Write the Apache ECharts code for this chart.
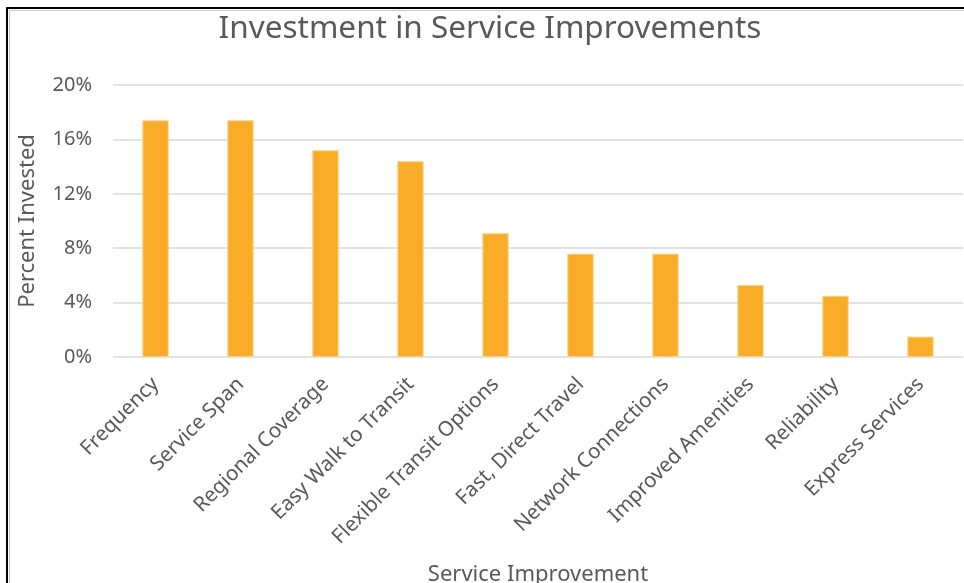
<!DOCTYPE html>
<html>
<head>
<meta charset="utf-8">
<script src="https://cdn.jsdelivr.net/npm/echarts@6/dist/echarts.min.js"></script>
<style>
html,body{margin:0;padding:0;background:#fff;}
#chart{width:964px;height:583px;}
</style>
</head>
<body>
<div id="chart"></div>
<script>
const categories = ["Frequency","Service Span","Regional Coverage","Easy Walk to Transit","Flexible Transit Options","Fast, Direct Travel","Network Connections","Improved Amenities","Reliability","Express Services"];
const percentInvested = [17.4, 17.4, 15.2, 14.4, 9.1, 7.6, 7.6, 5.3, 4.5, 1.5];
const yTicks = [0, 4, 8, 12, 16, 20];

const FONT = "Noto Sans";
const GRAY = "#595959";
const chart = echarts.init(document.getElementById('chart'), null, {renderer:'canvas'});
chart.setOption({
  animation: false,
  backgroundColor: '#fff',
  textStyle: {fontFamily: FONT},
  title: {
    text: 'Investment in Service Improvements',
    left: 485, top: 8, textAlign: 'center',
    textStyle: {fontFamily: FONT, fontSize: 31.5, fontWeight: 'normal', color: GRAY}
  },
  graphic: [
    {type:'rect', shape:{x:7, y:8, width:1000, height:1000}, style:{fill:'none', stroke:'#000', lineWidth:2}, silent:true},
    {type:'rect', shape:{x:9.5, y:10.5, width:1000, height:1000}, style:{fill:'none', stroke:'#c8c8c8', lineWidth:1}, silent:true}
  ],
  grid: {left: 113, right: 1, top: 85, bottom: 226, containLabel: false, outerBoundsMode: 'none'},
  xAxis: {
    type: 'category',
    data: categories,
    name: 'Service Improvement',
    nameLocation: 'middle',
    nameGap: 207,
    nameTextStyle: {fontFamily: FONT, fontSize: 22, color: GRAY},
    axisLine: {show: false},
    axisTick: {show: false},
    axisLabel: {rotate: 45, margin: 24, interval: 0, fontFamily: FONT, fontSize: 20.6, color: GRAY}
  },
  yAxis: {
    type: 'value',
    min: yTicks[0], max: yTicks[yTicks.length-1], interval: 4,
    name: 'Percent Invested',
    nameLocation: 'middle',
    nameGap: 74,
    nameTextStyle: {fontFamily: FONT, fontSize: 22, color: GRAY},
    axisLine: {show: false},
    axisTick: {show: false},
    axisLabel: {formatter: v => v + '%', margin: 21, fontFamily: FONT, fontSize: 20, color: GRAY},
    splitLine: {lineStyle: {color: '#d9d9d9', width: 1.5}}
  },
  series: [{
    type: 'bar',
    data: percentInvested,
    barWidth: '31%',
    itemStyle: {color: '#F9AC28', borderColor: '#FCD189', borderWidth: 1}
  }]
});
</script>
</body>
</html>
